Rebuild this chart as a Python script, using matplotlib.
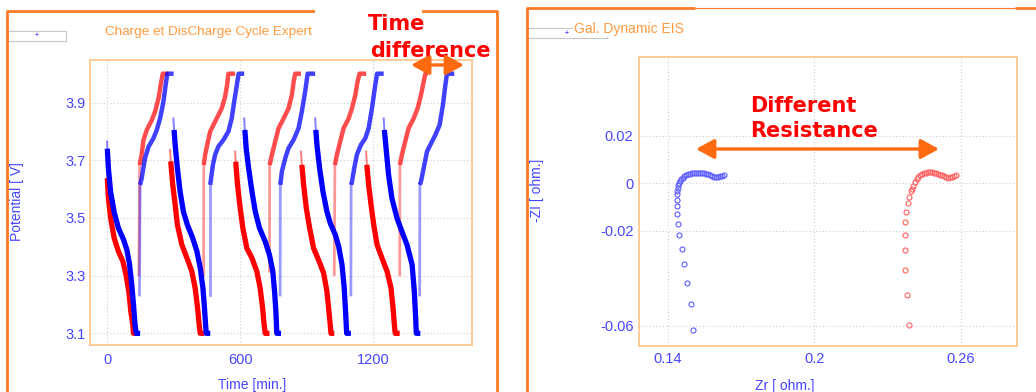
import matplotlib.pyplot as plt
from matplotlib.patches import Rectangle, FancyArrowPatch
from matplotlib.lines import Line2D

plt.rcParams['font.family'] = ['Liberation Sans', 'DejaVu Sans']

# --- charge / discharge cycling (time in min, potential in V), one list per cycle
blue_dis_t = [[0, 1, 6, 16, 32, 51, 74, 89, 101, 111, 119, 126, 131, 149],
              [299, 302, 307, 317, 329, 344, 362, 386, 405, 420, 432, 439, 444, 447, 465],
              [618, 621, 627, 638, 653, 668, 687, 713, 732, 747, 755, 761, 765, 784],
              [938, 941, 946, 958, 973, 991, 1006, 1029, 1044, 1059, 1069, 1075, 1080, 1099],
              [1247, 1250, 1259, 1269, 1284, 1307, 1329, 1352, 1375, 1385, 1391, 1394, 1412]]
blue_dis_v = [[3.765, 3.74, 3.672, 3.59, 3.52, 3.465, 3.425, 3.39, 3.34, 3.27, 3.20, 3.13, 3.10, 3.10],
              [3.845, 3.805, 3.753, 3.672, 3.592, 3.522, 3.476, 3.43, 3.384, 3.326, 3.257, 3.188, 3.13, 3.10, 3.10],
              [3.845, 3.805, 3.742, 3.672, 3.592, 3.522, 3.465, 3.418, 3.372, 3.315, 3.245, 3.176, 3.10, 3.10],
              [3.845, 3.805, 3.753, 3.672, 3.592, 3.522, 3.482, 3.441, 3.401, 3.338, 3.257, 3.176, 3.10, 3.10],
              [3.845, 3.805, 3.73, 3.649, 3.568, 3.499, 3.453, 3.407, 3.338, 3.245, 3.153, 3.10, 3.10]]
blue_ch_t = [[146, 149, 156, 171, 187, 209, 224, 239, 254, 266, 272, 300],
             [465, 465, 477, 487, 502, 525, 547, 562, 573, 585, 593, 618],
             [780, 781, 788, 803, 818, 841, 863, 878, 893, 904, 938],
             [1099, 1100, 1104, 1114, 1126, 1144, 1164, 1179, 1194, 1209, 1217, 1247],
             [1409, 1410, 1415, 1427, 1442, 1457, 1480, 1499, 1514, 1525, 1532, 1565]]
blue_ch_v = [[3.233, 3.615, 3.638, 3.707, 3.747, 3.776, 3.805, 3.845, 3.903, 3.972, 4.0, 4.0],
             [3.233, 3.615, 3.684, 3.719, 3.748, 3.771, 3.80, 3.846, 3.903, 3.961, 4.0, 4.0],
             [3.233, 3.615, 3.661, 3.707, 3.742, 3.771, 3.811, 3.869, 3.938, 4.0, 4.0],
             [3.233, 3.615, 3.626, 3.672, 3.719, 3.753, 3.776, 3.811, 3.88, 3.961, 4.0, 4.0],
             [3.233, 3.615, 3.626, 3.672, 3.73, 3.753, 3.788, 3.822, 3.892, 3.961, 4.0, 4.0]]

red_dis_t = [[0, 1, 6, 16, 32, 51, 71, 86, 98, 107, 116, 119, 134],
             [284, 287, 296, 307, 317, 337, 360, 382, 397, 408, 415, 420, 438],
             [577, 580, 588, 600, 612, 630, 653, 675, 690, 701, 708, 713, 732],
             [874, 878, 886, 898, 913, 931, 953, 976, 991, 1000, 1006, 1009, 1024],
             [1168, 1171, 1179, 1190, 1202, 1217, 1239, 1262, 1280, 1289, 1295, 1299, 1319]]
red_dis_v = [[3.66, 3.638, 3.57, 3.50, 3.43, 3.384, 3.35, 3.30, 3.245, 3.176, 3.13, 3.10, 3.10],
             [3.736, 3.696, 3.615, 3.545, 3.476, 3.407, 3.361, 3.315, 3.257, 3.188, 3.13, 3.10, 3.10],
             [3.73, 3.695, 3.615, 3.534, 3.465, 3.395, 3.361, 3.315, 3.257, 3.188, 3.13, 3.10, 3.10],
             [3.73, 3.684, 3.615, 3.534, 3.465, 3.395, 3.355, 3.309, 3.245, 3.176, 3.13, 3.10, 3.10],
             [3.73, 3.684, 3.615, 3.545, 3.476, 3.407, 3.361, 3.315, 3.257, 3.188, 3.13, 3.10, 3.10]]
red_ch_t = [[143, 147, 156, 164, 179, 202, 217, 232, 244, 251, 277],
            [435, 436, 442, 453, 465, 487, 517, 532, 541, 547, 577],
            [732, 733, 743, 758, 773, 796, 818, 833, 841, 848, 874],
            [1024, 1027, 1036, 1051, 1066, 1089, 1104, 1119, 1129, 1138, 1168],
            [1319, 1320, 1329, 1344, 1359, 1382, 1400, 1415, 1427, 1435, 1445]]
red_ch_v = [[3.303, 3.684, 3.72, 3.77, 3.805, 3.84, 3.87, 3.915, 3.972, 4.0, 4.0],
            [3.303, 3.684, 3.719, 3.759, 3.80, 3.834, 3.88, 3.92, 3.961, 4.0, 4.0],
            [3.315, 3.684, 3.719, 3.765, 3.811, 3.845, 3.88, 3.926, 3.972, 4.0, 4.0],
            [3.303, 3.684, 3.719, 3.765, 3.811, 3.845, 3.88, 3.926, 3.972, 4.0, 4.0],
            [3.303, 3.684, 3.719, 3.765, 3.811, 3.845, 3.88, 3.926, 3.972, 4.0, 4.0]]

time_ticks = [0, 600, 1200]
volt_ticks = [3.1, 3.3, 3.5, 3.7, 3.9]

# --- EIS (Nyquist), ohm
blue_zr = [0.1505, 0.1494, 0.1478, 0.1467, 0.1457, 0.1448, 0.1442, 0.1437, 0.1437, 0.1437,
           0.1438, 0.1440, 0.1442, 0.1444, 0.1446, 0.1450, 0.1454, 0.1461, 0.1467, 0.1475,
           0.1483, 0.1491, 0.1500, 0.1508, 0.1516, 0.1524, 0.1532, 0.1540, 0.1548, 0.1557,
           0.1565, 0.1573, 0.1581, 0.1589, 0.1598, 0.1606, 0.1614, 0.1622, 0.1630]
blue_zi = [-0.0619, -0.0508, -0.0421, -0.0342, -0.0277, -0.0220, -0.0170, -0.0129, -0.0096, -0.0069,
           -0.0046, -0.0034, -0.0021, -0.0008, 0.0000, 0.0008, 0.0017, 0.0023, 0.0029, 0.0034,
           0.0038, 0.0040, 0.0042, 0.0043, 0.0044, 0.0044, 0.0044, 0.0043, 0.0041, 0.0039,
           0.0037, 0.0034, 0.0030, 0.0027, 0.0024, 0.0025, 0.0029, 0.0032, 0.0034]
red_zr = [0.2387, 0.2379, 0.2372, 0.2371, 0.2369, 0.2372, 0.2377, 0.2383, 0.2388, 0.2394,
          0.2399, 0.2405, 0.2411, 0.2418, 0.2424, 0.2432, 0.2440, 0.2448, 0.2456, 0.2464,
          0.2473, 0.2481, 0.2489, 0.2497, 0.2505, 0.2513, 0.2522, 0.2530, 0.2538, 0.2546,
          0.2554, 0.2562, 0.2571, 0.2579]
red_zi = [-0.0598, -0.0469, -0.0366, -0.0283, -0.0218, -0.0164, -0.0121, -0.0085, -0.0058, -0.0034,
          -0.0025, -0.0011, 0.0004, 0.0017, 0.0027, 0.0034, 0.0039, 0.0042, 0.0044, 0.0045,
          0.0045, 0.0045, 0.0043, 0.0042, 0.0039, 0.0036, 0.0033, 0.0029, 0.0025, 0.0021,
          0.0024, 0.0027, 0.0031, 0.0034]

zr_ticks = [0.14, 0.2, 0.26]
zi_ticks = [-0.06, -0.02, 0, 0.02]

BLUE = '#0000ff'
RED = '#ff0000'
TXT = '#4646ff'
TITLE = '#ff9a40'
FRAME = '#ff7a26'
FRAME_IN = '#ffc890'
ARROW = '#ff6a10'

W, H = 1036, 392
fig = plt.figure(figsize=(W / 100, H / 100), dpi=100)


def fx(px):
    return px / W


def fy(py):
    return 1 - py / H


def style(ax, xpad, ypad):
    for s in ax.spines.values():
        s.set_color(FRAME_IN)
        s.set_linewidth(1.3)
    ax.tick_params(length=0, colors=TXT, labelsize=10.5)
    ax.tick_params(axis='x', pad=xpad)
    ax.tick_params(axis='y', pad=ypad)
    ax.grid(True, color='#cfcfcf', linestyle=(0, (1, 2)), linewidth=0.8)
    ax.set_axisbelow(True)


# left panel: cycling
ax1 = fig.add_axes([fx(90), fy(345), (472 - 90) / W, (345 - 60) / H])
style(ax1, 6, 3.2)
for ts, vs in zip(red_dis_t, red_dis_v):
    ax1.plot(ts[:2], vs[:2], color=RED, lw=1.4, alpha=0.5)
    ax1.plot(ts[1:], vs[1:], color=RED, lw=3.8, solid_capstyle='butt',
             solid_joinstyle='round')
for ts, vs in zip(red_ch_t, red_ch_v):
    ax1.plot(ts[:2], vs[:2], color=RED, lw=2.0, alpha=0.4)
    ax1.plot(ts[1:], vs[1:], color=RED, lw=3.2, alpha=0.7, solid_capstyle='butt',
             solid_joinstyle='round')
for ts, vs in zip(blue_dis_t, blue_dis_v):
    ax1.plot(ts[:2], vs[:2], color=BLUE, lw=1.4, alpha=0.5)
    ax1.plot(ts[1:], vs[1:], color=BLUE, lw=3.8, solid_capstyle='butt',
             solid_joinstyle='round')
for ts, vs in zip(blue_ch_t, blue_ch_v):
    ax1.plot(ts[:2], vs[:2], color=BLUE, lw=2.0, alpha=0.4)
    ax1.plot(ts[1:], vs[1:], color=BLUE, lw=3.2, alpha=0.75, solid_capstyle='butt',
             solid_joinstyle='round')
ax1.set_xlim(-77, 1645)
ax1.set_ylim(3.0595, 4.0475)
ax1.set_xticks(time_ticks)
ax1.set_yticks(volt_ticks)
ax1.set_yticklabels([f'{v:.1f}' for v in volt_ticks])

# right panel: EIS
ax2 = fig.add_axes([fx(639), fy(345.7), (1017 - 639) / W, (345.7 - 57) / H])
style(ax2, 4.5, 4)
ax2.plot(blue_zr, blue_zi, 'o', ms=3.6, mfc='none', mec='#5c5cff', mew=0.8)
ax2.plot(red_zr, red_zi, 'o', ms=3.6, mfc='none', mec='#ff6060', mew=0.8)
ax2.set_xlim(0.1283, 0.2829)
ax2.set_ylim(-0.0684, 0.0531)
ax2.set_xticks(zr_ticks)
ax2.set_xticklabels(['0.14', '0.2', '0.26'])
ax2.set_yticks(zi_ticks)
ax2.set_yticklabels(['-0.06', '-0.02', '0', '0.02'])

# axis labels
fig.text(fx(17), fy(202), 'Potential [ V]', rotation=90, color=TXT, fontsize=10,
         ha='center', va='center')
fig.text(fx(252), fy(385), 'Time [min.]', color=TXT, fontsize=10, ha='center', va='center')
fig.text(fx(537), fy(190), '-ZI [ ohm.]', rotation=90, color=TXT, fontsize=10,
         ha='center', va='center')
fig.text(fx(785), fy(386), 'Zr [ ohm.]', color=TXT, fontsize=10, ha='center', va='center')


def fline(xs, ys, lw, color=FRAME):
    fig.add_artist(Line2D([fx(x) for x in xs], [fy(y) for y in ys], color=color,
                          lw=lw, transform=fig.transFigure, solid_capstyle='butt'))


def frect(x0, y0, x1, y1, **kw):
    fig.add_artist(Rectangle((fx(x0), fy(y1)), (x1 - x0) / W, (y1 - y0) / H,
                             transform=fig.transFigure, **kw))


# outer window frames
fline([7, 7, 497, 497], [400, 11, 11, 400], 2)
fline([527, 527, 695], [400, 8, 8], 2)
fline([695, 1015], [8, 8], 0.8)
fline([1015, 1040], [8, 8], 2)

# window titles and legend stubs
fig.text(fx(105), fy(32), 'Charge et DisCharge Cycle Expert', color=TITLE, fontsize=9.7,
         va='center')
frect(315, 0, 422, 57, fc='white', ec='none', zorder=5)
frect(8, 31, 66, 41, fc='white', ec='#c8c8c8', lw=0.8)
fig.text(fx(37), fy(36), '+', color=BLUE, fontsize=5, ha='center', va='center')
frect(527, 28, 607, 38, fc='white', ec='#c8c8c8', lw=0.8)
fig.text(fx(567), fy(33), '+', color=BLUE, fontsize=5, ha='center', va='center')
fig.text(fx(574), fy(29.3), 'Gal. Dynamic EIS', color=TITLE, fontsize=10, va='center',
         bbox=dict(fc='white', ec='none', pad=0.5))

# annotations
bold = dict(color=RED, fontsize=15, fontweight='bold', family='DejaVu Sans',
            va='baseline', zorder=6)
fig.text(fx(368), fy(30), 'Time', **bold)
fig.text(fx(370), fy(56.7), 'difference', **bold)
fig.text(fx(750), fy(111.7), 'Different', **bold)
fig.text(fx(750.5), fy(137.3), 'Resistance', **bold)

for x0, x1, y in [(411, 464, 65), (696, 939, 149)]:
    fig.add_artist(FancyArrowPatch((fx(x0), fy(y)), (fx(x1), fy(y)),
                                   transform=fig.transFigure,
                                   arrowstyle='<|-|>,head_length=0.55,head_width=0.3',
                                   mutation_scale=20, color=ARROW, lw=2.4,
                                   shrinkA=0, shrinkB=0, zorder=7))

fig.savefig('out.png', dpi=100)
